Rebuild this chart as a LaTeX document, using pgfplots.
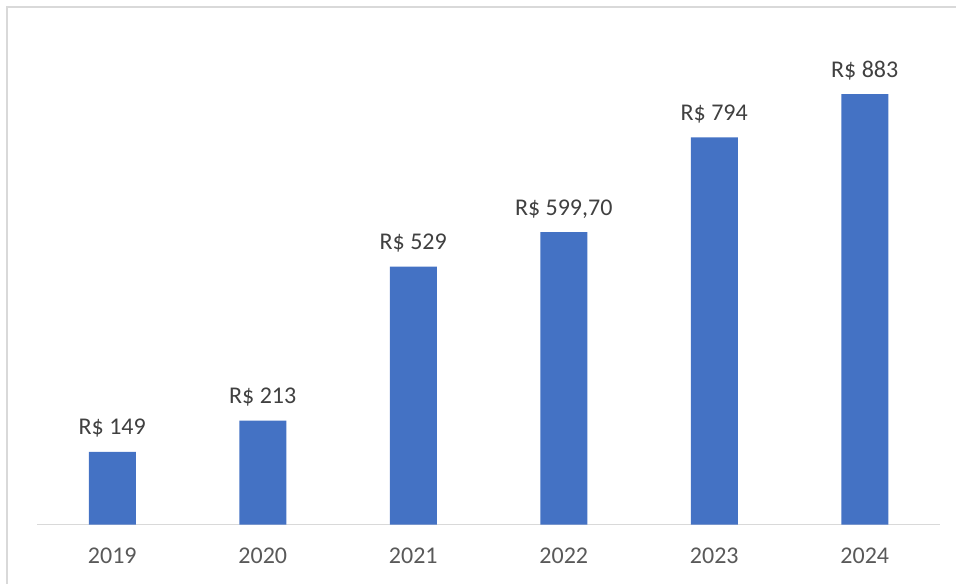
\documentclass[border=0pt]{standalone}
\usepackage{fontspec}
\setmainfont{Carlito}
\usepackage{pgfplots}
\pgfplotsset{compat=1.18}
\definecolor{barblue}{HTML}{4472C4}
\definecolor{framegray}{HTML}{D9D9D9}
\definecolor{labelgray}{HTML}{404040}
\definecolor{tickgray}{HTML}{595959}
\begin{document}
\begin{tikzpicture}
\useasboundingbox (0,0) rectangle (717pt,437.25pt);
% chart frame (only left and top edges are visible)
\draw[framegray, line width=1.6pt] (5.25pt,-20pt) -- (5.25pt,432pt) -- (740pt,432pt);
\begin{axis}[
    at={(27.75pt,43.875pt)}, anchor=south west,
    scale only axis,
    width=677.25pt, height=365.625pt,
    ybar, bar width=35.25pt,
    xmin=-0.5, xmax=5.5, ymin=0, ymax=1000,
    enlargelimits=false, clip=false,
    axis y line=none,
    axis x line*=bottom,
    x axis line style={-, draw=framegray, line width=1.1pt},
    xtick={0,1,2,3,4,5},
    xticklabels={2019,2020,2021,2022,2023,2024},
    major tick length=0pt,
    xticklabel style={anchor=base, yshift=-29.6pt, text=tickgray,
        font=\fontsize{18}{21}\selectfont},
    point meta=explicit symbolic,
    nodes near coords={\pgfplotspointmeta},
    nodes near coords style={anchor=base, yshift=12.75pt, text=labelgray,
        font=\fontsize{18}{21}\selectfont},
]
\addplot[fill=barblue, draw=none] coordinates {
    (0,149) [R\$ 149]
    (1,213) [R\$ 213]
    (2,529) [R\$ 529]
    (3,599.7) [R\$ 599,70]
    (4,794) [R\$ 794]
    (5,883) [R\$ 883]
};
\end{axis}
\end{tikzpicture}
\end{document}
